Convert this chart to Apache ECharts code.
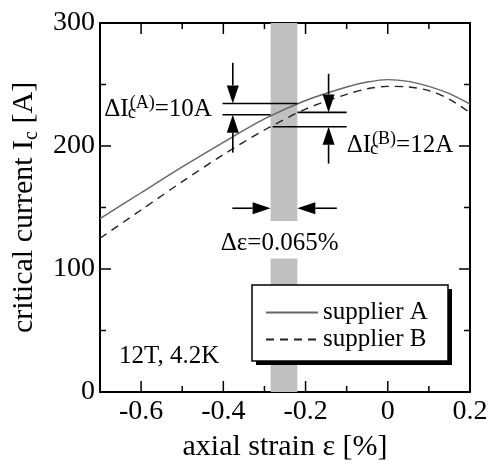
<!DOCTYPE html>
<html>
<head>
<meta charset="utf-8">
<script src="https://cdn.jsdelivr.net/npm/echarts@6/dist/echarts.min.js"></script>
<style>html,body{margin:0;padding:0;background:#fff;}#c{width:489px;height:464px;}</style>
</head>
<body>
<div id="c"></div>
<script>
// ---- data ----
const strain = [-0.7, -0.6, -0.5, -0.4, -0.3, -0.2, -0.1, -0.05, 0, 0.05, 0.1, 0.15, 0.2];
const icSupplierA = [141, 162, 183, 203, 222, 237, 248, 252, 254, 252.5, 248.5, 242.5, 234];
const icSupplierB = [125, 148, 171, 193, 213, 230, 242, 246.5, 248.5, 248, 245, 238, 227];
const seriesNames = ['supplier A', 'supplier B'];
const xMajorTicks = [-0.6, -0.4, -0.2, 0, 0.2];
const xMinorTicks = [-0.5, -0.3, -0.1, 0.1];
const yMajorTicks = [0, 100, 200, 300];
const yMinorTicks = [50, 150, 250];
const bandStrain = [-0.285, -0.22];
const deltaILevelsA = [234.6, 225.4];
const deltaILevelsB = [227.3, 215.7];
const xRange = [-0.7, 0.2];
const yRange = [0, 300];

const FONT = "'Liberation Serif', 'Times New Roman', serif";
const chart = echarts.init(document.getElementById('c'), null, {renderer: 'canvas'});

function pairs(xs, ys) { return xs.map((x, i) => [x, ys[i]]); }

// tick records: [x, y, dxPixels, dyPixels] (inward ticks on all four sides)
const MAJOR = 11, MINOR = 6;
const tickData = [];
xMajorTicks.forEach(v => { tickData.push([v, yRange[0], 0, -MAJOR], [v, yRange[1], 0, MAJOR]); });
xMinorTicks.forEach(v => { tickData.push([v, yRange[0], 0, -MINOR], [v, yRange[1], 0, MINOR]); });
yMajorTicks.forEach(v => { tickData.push([xRange[0], v, MAJOR, 0], [xRange[1], v, -MAJOR, 0]); });
yMinorTicks.forEach(v => { tickData.push([xRange[0], v, MINOR, 0], [xRange[1], v, -MINOR, 0]); });

const axisLine = {show: true, onZero: false, lineStyle: {color: '#000', width: 2}};
function xAx(pos, labels) {
  return {
    type: 'value', position: pos, min: xRange[0], max: xRange[1],
    axisLine: axisLine,
    axisTick: {show: false},
    axisLabel: labels ? {show: true, customValues: xMajorTicks, margin: 6, fontSize: 28, fontFamily: FONT, color: '#000',
      formatter: v => String(Math.round(v * 10) / 10)} : {show: false},
    splitLine: {show: false},
    name: labels ? 'axial strain ε [%]' : '',
    nameLocation: 'middle', nameGap: 40,
    nameTextStyle: {fontSize: 30, fontFamily: FONT, color: '#000'}
  };
}
function yAx(pos, labels) {
  return {
    type: 'value', position: pos, min: yRange[0], max: yRange[1],
    axisLine: axisLine,
    axisTick: {show: false},
    axisLabel: labels ? {show: true, customValues: yMajorTicks, margin: 5, fontSize: 28, fontFamily: FONT, color: '#000'} : {show: false},
    splitLine: {show: false},
    name: labels ? 'critical current I{s|c} [A]' : '',
    nameLocation: 'middle', nameGap: 57,
    nameTextStyle: {fontSize: 30, fontFamily: FONT, color: '#000',
      rich: {s: {fontSize: 20, fontFamily: FONT, color: '#000', verticalAlign: 'bottom', lineHeight: 36}}}
  };
}

const legendBox = {x: 252, y: 285, w: 196, h: 76, shadow: 4};

const option = {
  animation: false,
  backgroundColor: '#fff',
  grid: {left: 100, right: 19, top: 23, bottom: 72, outerBoundsMode: 'none', containLabel: false},
  xAxis: [xAx('bottom', true), xAx('top', false)],
  yAxis: [yAx('left', true), yAx('right', false)],
  legend: {
    data: seriesNames, orient: 'vertical', left: legendBox.x, top: legendBox.y, z: 20,
    padding: [15, 16, 9, 13], itemGap: 2, itemWidth: 52, itemHeight: 14,
    itemStyle: {color: 'transparent', borderColor: 'transparent', borderWidth: 0},
    textStyle: {fontSize: 25, fontFamily: FONT, color: '#000'},
    selectedMode: false
  },
  series: [
    {
      name: seriesNames[0], type: 'line', data: pairs(strain, icSupplierA), smooth: 0.3,
      symbol: 'none', lineStyle: {color: '#666', width: 1.4}, itemStyle: {color: 'transparent'}, z: 3,
      markArea: {
        silent: true, itemStyle: {color: '#c0c0c0', opacity: 1},
        data: [
          [{xAxis: bandStrain[0], yAxis: 139}, {xAxis: bandStrain[1], yAxis: 300}],
          [{xAxis: bandStrain[0], yAxis: 0}, {xAxis: bandStrain[1], yAxis: 108.6}]
        ]
      }
    },
    {
      name: seriesNames[1], type: 'line', data: pairs(strain, icSupplierB), smooth: 0.3,
      symbol: 'none', lineStyle: {color: '#222', width: 1.4, type: [8, 6]}, itemStyle: {color: 'transparent'}, z: 3
    },
    {
      name: 'ticks', type: 'custom', data: tickData, silent: true, clip: false, z: 12,
      encode: {x: 0, y: 1},
      renderItem: function (params, api) {
        const p = api.coord([api.value(0), api.value(1)]);
        return {type: 'line', shape: {x1: p[0], y1: p[1], x2: p[0] + api.value(2), y2: p[1] + api.value(3)},
          style: {stroke: '#000', lineWidth: 1.5}};
      }
    }
  ]
};
chart.setOption(option);

// ---- annotations (positions through the chart's scales) ----
function P(x, y) { return chart.convertToPixel({xAxisIndex: 0, yAxisIndex: 0}, [x, y]); }
const ctx = document.createElement('canvas').getContext('2d');
function tw(str, size) { ctx.font = size + 'px ' + FONT; return ctx.measureText(str).width; }
const g = [];
function seg(x1, y1, x2, y2, w) {
  g.push({type: 'line', shape: {x1: x1, y1: y1, x2: x2, y2: y2}, style: {stroke: '#000', lineWidth: w}, z: 10});
}

// legend frame with solid offset shadow
g.push({type: 'rect', z: 15, shape: {x: legendBox.x + legendBox.shadow, y: legendBox.y + legendBox.shadow, width: legendBox.w, height: legendBox.h},
  style: {fill: '#000'}});
g.push({type: 'rect', z: 16, shape: {x: legendBox.x, y: legendBox.y, width: legendBox.w, height: legendBox.h},
  style: {fill: '#fff', stroke: '#000', lineWidth: 1.5}});

function hline(x1, x2, y) {
  const a = P(x1, y), b = P(x2, y);
  seg(a[0], a[1], b[0], b[1], 1.6);
}
function arrow(from, to) {
  const a = P(from[0], from[1]), b = P(to[0], to[1]);
  const dx = b[0] - a[0], dy = b[1] - a[1], L = Math.hypot(dx, dy);
  const ux = dx / L, uy = dy / L, hl = 18, hw = 6;
  const bx = b[0] - ux * hl, by = b[1] - uy * hl;
  seg(a[0], a[1], bx, by, 1.6);
  g.push({type: 'polygon', shape: {points: [[b[0], b[1]], [bx - uy * hw, by + ux * hw], [bx + uy * hw, by - ux * hw]]},
    style: {fill: '#000'}, z: 10});
}
function txt(px, py, str, size, align) {
  g.push({type: 'text', x: px, y: py, z: 10,
    style: {text: str, font: size + 'px ' + FONT, fill: '#000', align: align || 'left', verticalAlign: 'middle'}});
}
function text(x, y, str, align) { const p = P(x, y); txt(p[0], p[1], str, 25, align); }
// ΔI_c^(X)=..A with stacked sub/superscript
function deltaLabel(x, y, sup, rest, align) {
  const p = P(x, y);
  const wMain = tw('ΔI', 25), wSup = tw(sup, 18), wRest = tw(rest, 25);
  const total = wMain + 1 + wSup + wRest;
  const x0 = align === 'right' ? p[0] - total : p[0];
  txt(x0, p[1], 'ΔI', 25);
  txt(x0 + wMain - 1, p[1] + 4, 'c', 19);
  txt(x0 + wMain + 1, p[1] - 6, sup, 18);
  txt(x0 + wMain + 1 + wSup, p[1], rest, 25);
}

// ΔIc(A)
hline(-0.402, bandStrain[1], deltaILevelsA[0]);
hline(-0.402, bandStrain[0], deltaILevelsA[1]);
arrow([-0.377, 267.6], [-0.377, deltaILevelsA[0]]);
arrow([-0.377, 194.6], [-0.377, deltaILevelsA[1]]);
deltaLabel(-0.428, 230, '(A)', '=10A', 'right');
// ΔIc(B)
hline(bandStrain[1], -0.1, deltaILevelsB[0]);
hline(-0.28, -0.1, deltaILevelsB[1]);
arrow([-0.144, 258.7], [-0.144, deltaILevelsB[0]]);
arrow([-0.144, 185.7], [-0.144, deltaILevelsB[1]]);
deltaLabel(-0.1, 200.5, '(B)', '=12A', 'left');
// Δε
arrow([-0.378, 149.4], [bandStrain[0], 149.4]);
arrow([-0.124, 149.4], [bandStrain[1], 149.4]);
text(-0.263, 121, 'Δε=0.065%', 'center');
// conditions
text(-0.6537, 29, '12T, 4.2K', 'left');

chart.setOption({graphic: g});
</script>
</body>
</html>
